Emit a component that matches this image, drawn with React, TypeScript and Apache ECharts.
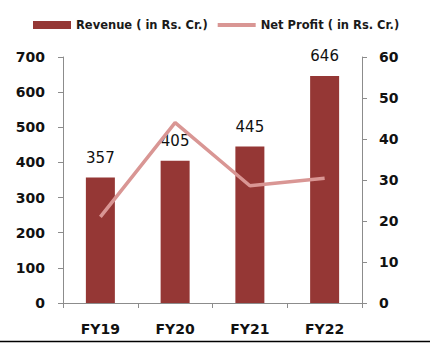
import React, { useEffect, useRef } from "react";
import * as echarts from "echarts";

const categories = ["FY19", "FY20", "FY21", "FY22"];
const revenue = [357, 405, 445, 646];
const netProfit = [21, 44, 28.6, 30.4];
const revenueName = "Revenue ( in Rs. Cr.)";
const profitName = "Net Profit ( in Rs. Cr.)";

const FONT = "'DejaVu Sans', sans-serif";

export default function App() {
  const ref = useRef<HTMLDivElement>(null);
  useEffect(() => {
    if (!ref.current) return;
    const chart = echarts.init(ref.current, undefined, { renderer: "svg" });
    const axisLine = { show: true, lineStyle: { color: "#8c8c8c", width: 1 } };
    const axisTick = { show: true, length: 5, lineStyle: { color: "#8c8c8c" } };
    const axisLabel = { color: "#111111", fontSize: 14, fontWeight: "bold" as const, fontFamily: FONT };
    chart.setOption({
      animation: false,
      backgroundColor: "#ffffff",
      textStyle: { fontFamily: FONT },
      legend: {
        left: 28,
        top: 14,
        itemWidth: 38,
        itemHeight: 8,
        itemGap: 10,
        itemTextGap: 5,
        textStyle: { fontSize: 11.5, fontWeight: "bold", color: "#1a1a1a", fontFamily: FONT },
        data: [
          { name: revenueName, icon: "rect" },
          { name: profitName, icon: "path://M0,0H38V4H0Z" },
        ],
      },
      grid: { left: 63, right: 85, top: 57, bottom: 48, containLabel: false },
      xAxis: {
        type: "category",
        data: categories,
        axisLine,
        axisTick,
        axisLabel: { ...axisLabel, margin: 19 },
        splitLine: { show: false },
      },
      yAxis: [
        {
          type: "value",
          min: 0,
          max: 700,
          interval: 100,
          axisLine,
          axisTick,
          axisLabel: { ...axisLabel, margin: 18 },
          splitLine: { show: false },
        },
        {
          type: "value",
          min: 0,
          max: 60,
          interval: 10,
          position: "right",
          axisLine,
          axisTick,
          axisLabel: { ...axisLabel, margin: 17 },
          splitLine: { show: false },
        },
      ],
      series: [
        {
          name: revenueName,
          type: "bar",
          data: revenue,
          barWidth: 29,
          itemStyle: { color: "#953735" },
          label: {
            show: true,
            position: "top",
            distance: 12,
            fontSize: 15,
            color: "#111111",
            fontFamily: FONT,
          },
          z: 2,
        },
        {
          name: profitName,
          type: "line",
          yAxisIndex: 1,
          data: netProfit,
          symbol: "none",
          lineStyle: { color: "#d99694", width: 3.5 },
          itemStyle: { color: "#d99694" },
          z: 3,
        },
      ],
      graphic: [
        {
          type: "line",
          shape: { x1: 0, y1: 341.5, x2: 430, y2: 341.5 },
          style: { stroke: "#000000", lineWidth: 1.5 },
        },
      ],
    });
    return () => chart.dispose();
  }, []);
  return <div ref={ref} style={{ width: 447, height: 351, position: "absolute", left: 0, top: 0 }} />;
}
